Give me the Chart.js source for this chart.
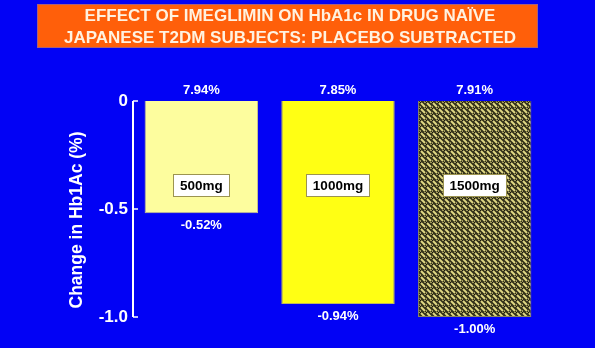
<!DOCTYPE html>
<html>
<head>
<meta charset="utf-8">
<script src="https://cdn.jsdelivr.net/npm/chart.js@4/dist/chart.umd.min.js"></script>
<style>
  html, body { margin: 0; padding: 0; background: #0202f5; }
  #wrap { width: 595px; height: 348px; position: relative; }
</style>
</head>
<body>
<div id="wrap"><canvas id="c" width="595" height="348"></canvas></div>
<script>
// Dose groups, placebo-subtracted HbA1c change and baseline HbA1c
const doses = ["500mg", "1000mg", "1500mg"];
const hba1cChange = [-0.52, -0.94, -1.00];
const baselineLabels = ["7.94%", "7.85%", "7.91%"];
const changeLabels = ["-0.52%", "-0.94%", "-1.00%"];
const yTicks = [0, -0.5, -1.0];
const titleLines = ["EFFECT OF IMEGLIMIN ON HbA1c IN DRUG NAÏVE", "JAPANESE T2DM SUBJECTS: PLACEBO SUBTRACTED"];
const yTitle = "Change in Hb1Ac (%)";

const BG = "#0202f5";

// Woven olive/yellow texture for the highest dose
function makeWeave() {
  const t = document.createElement("canvas");
  t.width = 6; t.height = 6;
  const g = t.getContext("2d");
  g.fillStyle = "#34321a";
  g.fillRect(0, 0, 6, 6);
  g.strokeStyle = "#e0d884";
  g.lineWidth = 2;
  g.beginPath();
  g.moveTo(1, 1); g.lineTo(5, 5);
  g.stroke();
  g.fillStyle = "#a49c5c";
  g.fillRect(4, 0, 2, 1);
  g.fillRect(0, 4, 1, 2);
  g.fillStyle = "#14130a";
  g.fillRect(0, 0, 1, 1);
  return g.createPattern(t, "repeat");
}

const ctx0 = document.getElementById("c").getContext("2d");
const weave = makeWeave();

const decor = {
  id: "decor",
  beforeDraw(chart) {
    const ctx = chart.ctx;
    ctx.save();
    ctx.fillStyle = BG;
    ctx.fillRect(0, 0, chart.width, chart.height);
    // title banner
    ctx.fillStyle = "#ff5f0a";
    ctx.fillRect(37, 4, 501, 44);
    ctx.strokeStyle = "#a8607a";
    ctx.lineWidth = 1;
    ctx.strokeRect(37.5, 4.5, 500, 43);
    ctx.fillStyle = "#fff2e0";
    ctx.font = "bold 17px Arial, 'Liberation Sans', sans-serif";
    ctx.textAlign = "center";
    ctx.textBaseline = "middle";
    ctx.fillText(titleLines[0], 290, 16);
    ctx.fillText(titleLines[1], 290, 38);
    // rotated y-axis title
    ctx.translate(77, 220);
    ctx.rotate(-Math.PI / 2);
    ctx.fillStyle = "#ffffff";
    ctx.font = "bold 17.5px Arial, 'Liberation Sans', sans-serif";
    ctx.fillText(yTitle, 0, 0);
    ctx.restore();
  },
  afterDraw(chart) {
    const ctx = chart.ctx;
    const ys = chart.scales.y;
    const meta = chart.getDatasetMeta(0);
    const x0 = chart.chartArea.left;
    ctx.save();
    // axis line with inward ticks
    ctx.strokeStyle = "#ffffff";
    ctx.lineWidth = 2;
    ctx.beginPath();
    ctx.moveTo(x0, ys.getPixelForValue(0));
    ctx.lineTo(x0, ys.getPixelForValue(-1));
    ctx.stroke();
    ctx.lineWidth = 1.5;
    yTicks.forEach(v => {
      const y = ys.getPixelForValue(v);
      ctx.beginPath();
      ctx.moveTo(x0, y);
      ctx.lineTo(x0 + 5, y);
      ctx.stroke();
    });
    ctx.textAlign = "center";
    ctx.textBaseline = "middle";
    meta.data.forEach((bar, i) => {
      // baseline above, change below
      ctx.fillStyle = "#ffffff";
      ctx.font = "bold 13px Arial, 'Liberation Sans', sans-serif";
      ctx.fillText(baselineLabels[i], bar.x, ys.getPixelForValue(0) - 11);
      ctx.fillText(changeLabels[i], bar.x, bar.y + 12);
      // dose tag
      ctx.font = "bold 13.5px Arial, 'Liberation Sans', sans-serif";
      const w = ctx.measureText(doses[i]).width + 13;
      const h = 22;
      const cy = ys.getPixelForValue(-0.39);
      ctx.fillStyle = "#ffffff";
      ctx.fillRect(bar.x - w / 2, cy - h / 2, w, h);
      ctx.strokeStyle = "#9c9450";
      ctx.lineWidth = 1;
      ctx.strokeRect(Math.round(bar.x - w / 2) + 0.5, Math.round(cy - h / 2) + 0.5, Math.round(w), h);
      ctx.fillStyle = "#000000";
      ctx.fillText(doses[i], bar.x, cy + 1);
    });
    ctx.restore();
  }
};

new Chart(ctx0, {
  type: "bar",
  data: {
    labels: doses,
    datasets: [{
      data: hba1cChange,
      backgroundColor: ["#fdfd9e", "#ffff14", weave],
      borderColor: ["#c8c48a", "#bdb860", "#8a8660"],
      borderWidth: 1,
      barPercentage: 0.83,
      categoryPercentage: 1.0
    }]
  },
  options: {
    responsive: false,
    animation: false,
    devicePixelRatio: 1,
    layout: { padding: { top: 101, bottom: 31, left: 0, right: 52 } },
    plugins: { legend: { display: false }, tooltip: { enabled: false }, title: { display: false } },
    scales: {
      x: { display: false },
      y: {
        min: -1, max: 0,
        afterFit(scale) { scale.width = 133; },
        afterBuildTicks(scale) { scale.ticks = yTicks.map(v => ({ value: v })); },
        grid: { display: false, drawTicks: false },
        border: { display: false },
        ticks: {
          color: "#ffffff",
          padding: 5,
          font: { family: "Arial, 'Liberation Sans', sans-serif", size: 17, weight: "bold" },
          callback: v => (v === 0 ? "0" : v.toFixed(1))
        }
      }
    }
  },
  plugins: [decor]
});
</script>
</body>
</html>
